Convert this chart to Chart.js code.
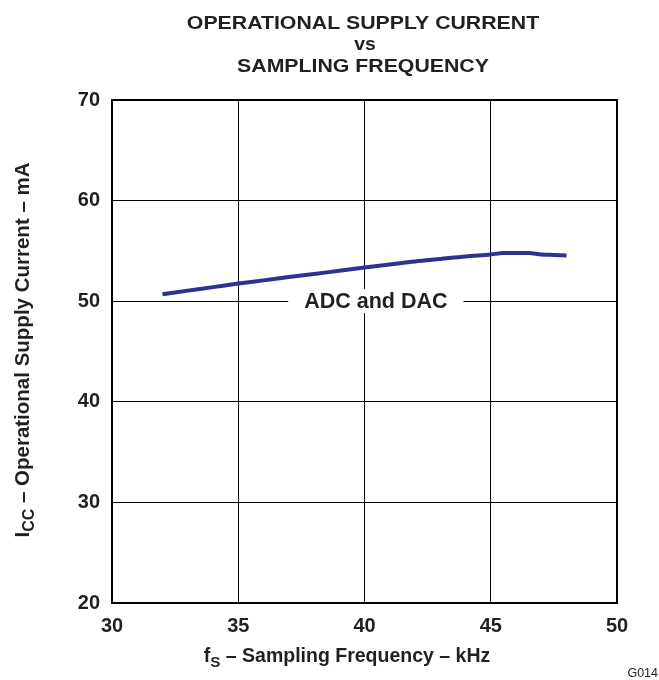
<!DOCTYPE html>
<html>
<head>
<meta charset="utf-8">
<script src="https://cdn.jsdelivr.net/npm/chart.js@4/dist/chart.umd.min.js"></script>
<style>
  html, body { margin: 0; padding: 0; background: #fff; }
  #wrap { width: 659px; height: 680px; position: relative; }
</style>
</head>
<body>
<div id="wrap"><canvas id="supplyChart"></canvas></div>
<script>
// sampling frequency (kHz) and operational supply current (mA)
const freqKHz = [32, 33, 34, 35, 36, 37, 38, 39, 40, 41, 42, 43, 44, 45, 45.5, 46, 46.5, 47, 47.5, 48];
const iccMA = [50.7, 51.05, 51.4, 51.75, 52.07, 52.4, 52.7, 53.03, 53.35, 53.65, 53.95, 54.2, 54.45, 54.65, 54.78, 54.8, 54.78, 54.65, 54.6, 54.55];

const xTicks = [30, 35, 40, 45, 50];
const yTicks = [20, 30, 40, 50, 60, 70];

const titleLines = ["OPERATIONAL SUPPLY CURRENT", "vs", "SAMPLING FREQUENCY"];
const seriesLabel = "ADC and DAC";
const seriesLabelAt = { x: 40.45, y: 50 };
const figureCode = "G014";

const ink = "#231f20";
const FONT = "'Liberation Sans', Arial, sans-serif";

// centered text, optionally stretched horizontally
function stretchText(ctx, text, x, y, font, sx) {
    ctx.save();
    ctx.font = font;
    ctx.textAlign = "center";
    ctx.translate(x, y);
    ctx.scale(sx, 1);
    ctx.fillText(text, 0, 0);
    ctx.restore();
}

// draw text with a subscript part: [main, sub, rest]
function drawSubText(ctx, parts, size, x, y) {
    const [main, sub, rest] = parts;
    ctx.font = `bold ${size}px ${FONT}`;
    const w1 = ctx.measureText(main).width;
    const w3 = ctx.measureText(rest).width;
    ctx.font = `bold ${size * 0.78}px ${FONT}`;
    const w2 = ctx.measureText(sub).width;
    let cx = x - (w1 + w2 + w3) / 2;
    ctx.textAlign = "left";
    ctx.textBaseline = "middle";
    ctx.font = `bold ${size}px ${FONT}`;
    ctx.fillText(main, cx, y);
    cx += w1;
    ctx.font = `bold ${size * 0.78}px ${FONT}`;
    ctx.fillText(sub, cx, y + size * 0.3);
    cx += w2;
    ctx.font = `bold ${size}px ${FONT}`;
    ctx.fillText(rest, cx, y);
}

const decorPlugin = {
    id: "decor",
    afterDatasetsDraw(chart) {
        const { ctx, chartArea, scales } = chart;
        ctx.save();
        // frame
        ctx.strokeStyle = "#000";
        ctx.lineWidth = 2;
        ctx.strokeRect(chartArea.left, chartArea.top,
            chartArea.right - chartArea.left, chartArea.bottom - chartArea.top);

        // series label sitting on the gridline
        const lx = scales.x.getPixelForValue(seriesLabelAt.x);
        const ly = scales.y.getPixelForValue(seriesLabelAt.y);
        ctx.font = `bold 21.5px ${FONT}`;
        const tw = ctx.measureText(seriesLabel).width;
        ctx.fillStyle = "#fff";
        ctx.fillRect(lx - tw / 2 - 16, ly - 12, tw + 32, 24);
        ctx.fillStyle = ink;
        ctx.textAlign = "center";
        ctx.textBaseline = "middle";
        ctx.fillText(seriesLabel, lx, ly + 1);
        ctx.restore();
    },
    afterDraw(chart) {
        const { ctx } = chart;
        ctx.save();
        ctx.fillStyle = ink;
        ctx.textBaseline = "alphabetic";
        stretchText(ctx, titleLines[0], 363, 28.5, `bold 19px ${FONT}`, 1.12);
        stretchText(ctx, titleLines[1], 365, 50, `bold 18px ${FONT}`, 1.08);
        stretchText(ctx, titleLines[2], 363, 72, `bold 19px ${FONT}`, 1.12);

        // x axis title
        drawSubText(ctx, ["f", "S", " \u2013 Sampling Frequency \u2013 kHz"], 19.5, 347, 657);

        // y axis title (rotated)
        ctx.translate(23, 350);
        ctx.rotate(-Math.PI / 2);
        drawSubText(ctx, ["I", "CC", " \u2013 Operational Supply Current \u2013 mA"], 20.5, 0, 0);
        ctx.setTransform(1, 0, 0, 1, 0, 0);
        ctx.restore();

        ctx.save();
        ctx.fillStyle = ink;
        ctx.font = `12.5px ${FONT}`;
        ctx.textAlign = "right";
        ctx.textBaseline = "middle";
        ctx.fillText(figureCode, 658, 674);
        ctx.restore();
    }
};

const canvas = document.getElementById("supplyChart");
new Chart(canvas.getContext("2d"), {
    type: "line",
    data: {
        datasets: [{
            label: seriesLabel,
            data: freqKHz.map((f, i) => ({ x: f, y: iccMA[i] })),
            borderColor: "#2e3192",
            borderWidth: 4,
            pointRadius: 0,
            tension: 0.4,
            cubicInterpolationMode: "monotone",
            fill: false,
        }],
    },
    options: {
        responsive: true,
        maintainAspectRatio: false,
        animation: false,
        devicePixelRatio: 1,
        layout: { padding: { left: 0, right: 42, top: 100, bottom: 0 } },
        scales: {
            x: {
                type: "linear",
                min: xTicks[0],
                max: xTicks[xTicks.length - 1],
                afterFit: (s) => { s.height = 77; },
                afterBuildTicks: (s) => { s.ticks = xTicks.map((v) => ({ value: v })); },
                grid: { color: "#000", lineWidth: 1, drawTicks: false },
                border: { display: false },
                ticks: {
                    padding: 11,
                    color: ink,
                    font: { family: FONT, size: 20, weight: "bold" },
                    maxRotation: 0,
                },
            },
            y: {
                min: yTicks[0],
                max: yTicks[yTicks.length - 1],
                afterFit: (s) => { s.width = 112; },
                afterBuildTicks: (s) => { s.ticks = yTicks.map((v) => ({ value: v })); },
                grid: { color: "#000", lineWidth: 1, drawTicks: false },
                border: { display: false },
                ticks: {
                    padding: 12,
                    color: ink,
                    font: { family: FONT, size: 20, weight: "bold" },
                },
            },
        },
        plugins: {
            legend: { display: false },
            title: { display: false },
            tooltip: { enabled: false },
        },
    },
    plugins: [decorPlugin],
});
</script>
</body>
</html>
